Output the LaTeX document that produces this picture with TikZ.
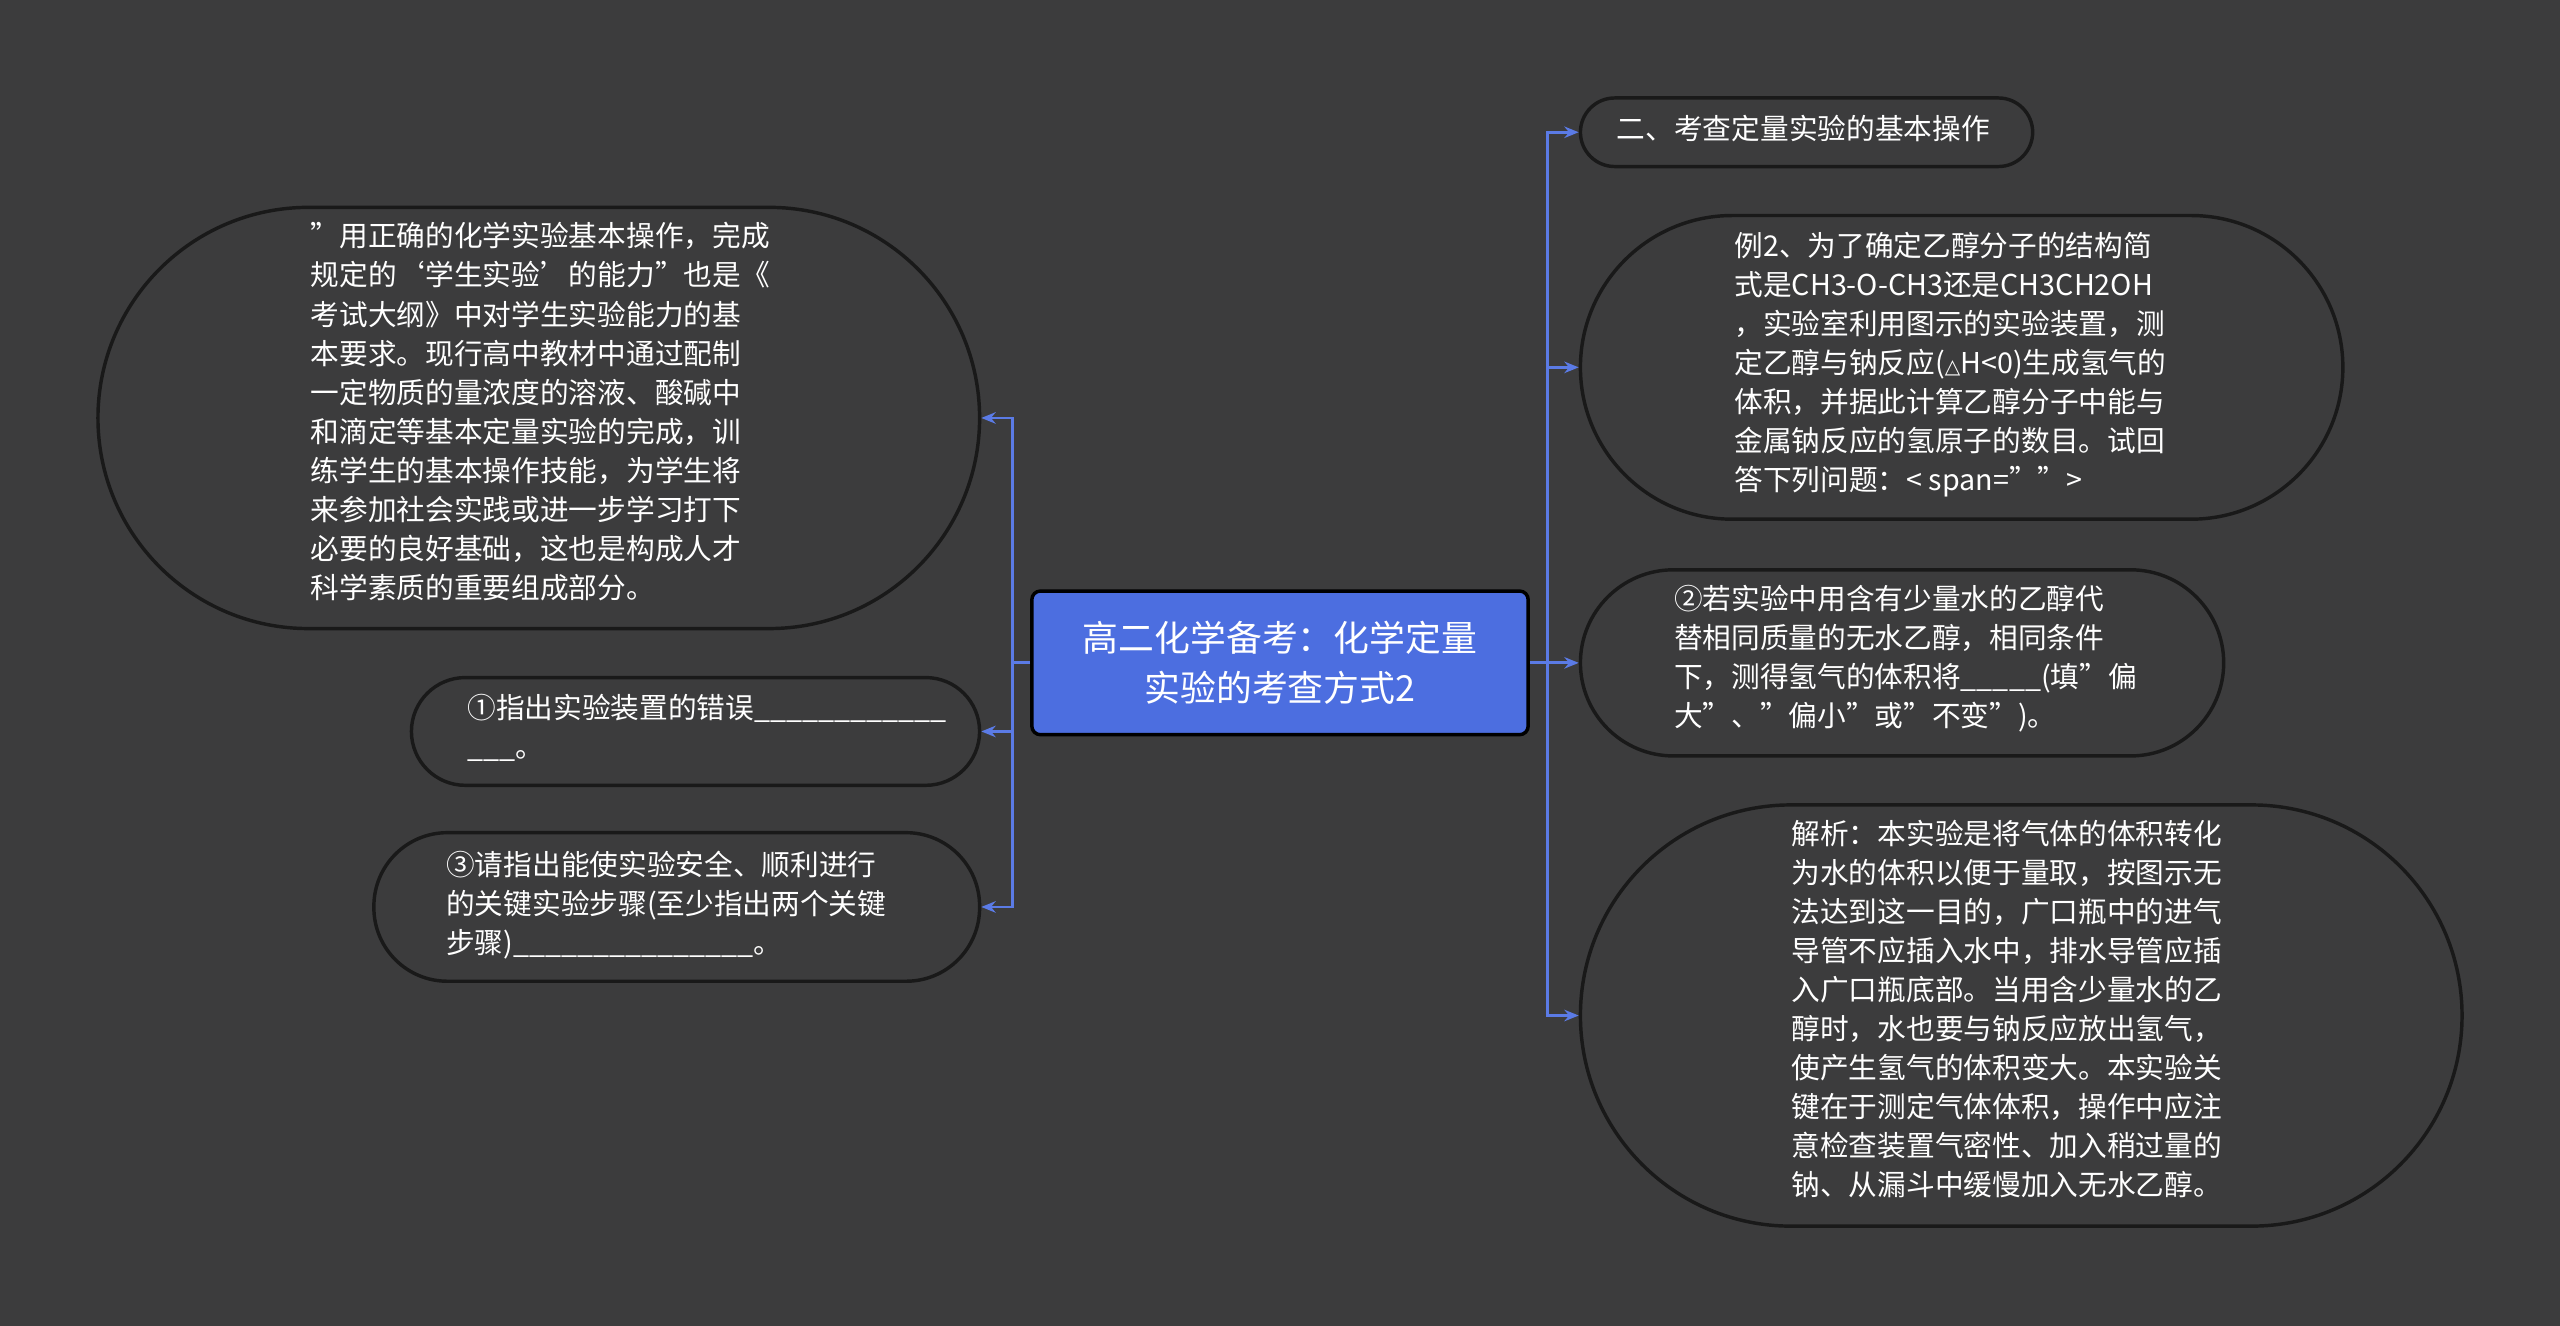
\documentclass[tikz,border=0pt]{standalone}
\usepackage{fontspec}
\setmainfont{Noto Sans CJK SC}
\usetikzlibrary{arrows.meta}
\definecolor{bg}{HTML}{3C3C3D}
\definecolor{edge}{HTML}{5B7BE6}
\definecolor{cfill}{HTML}{4C6EE0}
\begin{document}
\begin{tikzpicture}[x=0.02cm,y=-0.02cm,
  bubble/.style={draw=black!90,line width=1.2pt,fill=bg,inner sep=0pt},
  txt/.style={text=white,font=\fontsize{10pt}{13.6pt}\selectfont,align=left,anchor=north west,inner sep=0pt},
  conn/.style={draw=edge,line width=1pt},
  arr/.style={conn,-{Stealth[length=5pt,width=4pt]}}]
\fill[bg] (0,0) rectangle (1568,812);
\useasboundingbox (0,0) rectangle (1568,812);
% central
\node[draw=black,line width=1.2pt,fill=cfill,rounded corners=3pt,minimum width=304*0.02cm,minimum height=88*0.02cm,text=white,align=center,font=\fontsize{12.5pt}{17.6pt}\selectfont] (c) at (784,406) {高二化学备考：化学定量\\实验的考查方式2};
% left shapes
\node[bubble,rounded corners=129*0.02cm,minimum width=540*0.02cm,minimum height=258*0.02cm] (l1) at (330,256) {};
\node[bubble,rounded corners=33*0.02cm,minimum width=348*0.02cm,minimum height=66*0.02cm] (l2) at (426,448) {};
\node[bubble,rounded corners=45*0.02cm,minimum width=371*0.02cm,minimum height=91*0.02cm] (l3) at (414.5,555.5) {};
\node[txt] (t1) at (190,136) {"用正确的化学实验基本操作，完成\\规定的‘学生实验’的能力"也是《\\考试大纲》中对学生实验能力的基\\本要求。现行高中教材中通过配制\\一定物质的量浓度的溶液、酸碱中\\和滴定等基本定量实验的完成，训\\练学生的基本操作技能，为学生将\\来参加社会实践或进一步学习打下\\必要的良好基础，这也是构成人才\\科学素质的重要组成部分。};
\node[txt] (t2) at (286,425) {①指出实验装置的错误\_\_\_\_\_\_\_\_\_\_\_\_\\\_\_\_。};
\node[txt] (t3) at (273,521) {③请指出能使实验安全、顺利进行\\的关键实验步骤(至少指出两个关键\\步骤)\_\_\_\_\_\_\_\_\_\_\_\_\_\_\_。};
% right shapes
\node[bubble,rounded corners=21*0.02cm,minimum width=277*0.02cm,minimum height=42*0.02cm] (r1) at (1106.5,81) {};
\node[bubble,rounded corners=93*0.02cm,minimum width=467*0.02cm,minimum height=186*0.02cm] (r2) at (1201.5,225) {};
\node[bubble,rounded corners=57*0.02cm,minimum width=394*0.02cm,minimum height=114*0.02cm] (r3) at (1165,406) {};
\node[bubble,rounded corners=129*0.02cm,minimum width=540*0.02cm,minimum height=258*0.02cm] (r4) at (1238,622) {};
\node[txt] (s1) at (990,70) {二、考查定量实验的基本操作};
\node[txt] (s2) at (1062,142) {例2、为了确定乙醇分子的结构简\\式是CH3-O-CH3还是CH3CH2OH\\，实验室利用图示的实验装置，测\\定乙醇与钠反应(\fontspec{DejaVu Sans}\scriptsize△\normalsize\fontspec{Noto Sans CJK SC}H<0)生成氢气的\\体积，并据此计算乙醇分子中能与\\金属钠反应的氢原子的数目。试回\\答下列问题：< span="">};
\node[txt] (s3) at (1025,358) {②若实验中用含有少量水的乙醇代\\替相同质量的无水乙醇，相同条件\\下，测得氢气的体积将\_\_\_\_\_(填"偏\\大"、"偏小"或"不变")。};
\node[txt] (s4) at (1097,502) {解析：本实验是将气体的体积转化\\为水的体积以便于量取，按图示无\\法达到这一目的，广口瓶中的进气\\导管不应插入水中，排水导管应插\\入广口瓶底部。当用含少量水的乙\\醇时，水也要与钠反应放出氢气，\\使产生氢气的体积变大。本实验关\\键在于测定气体体积，操作中应注\\意检查装置气密性、加入稍过量的\\钠、从漏斗中缓慢加入无水乙醇。};
% connectors
\coordinate (lj) at (620,406);
\coordinate (rj) at (948,406);
\draw[conn] (c.west) -- (lj);
\draw[arr] (lj) |- (l1.east);
\draw[arr] (lj) |- (l2.east);
\draw[arr] (lj) |- (l3.east);
\draw[conn] (c.east) -- (rj);
\draw[arr] (rj) |- (r1.west);
\draw[arr] (rj) |- (r2.west);
\draw[arr] (rj) -- (r3.west);
\draw[arr] (rj) |- (r4.west);
\end{tikzpicture}
\end{document}
